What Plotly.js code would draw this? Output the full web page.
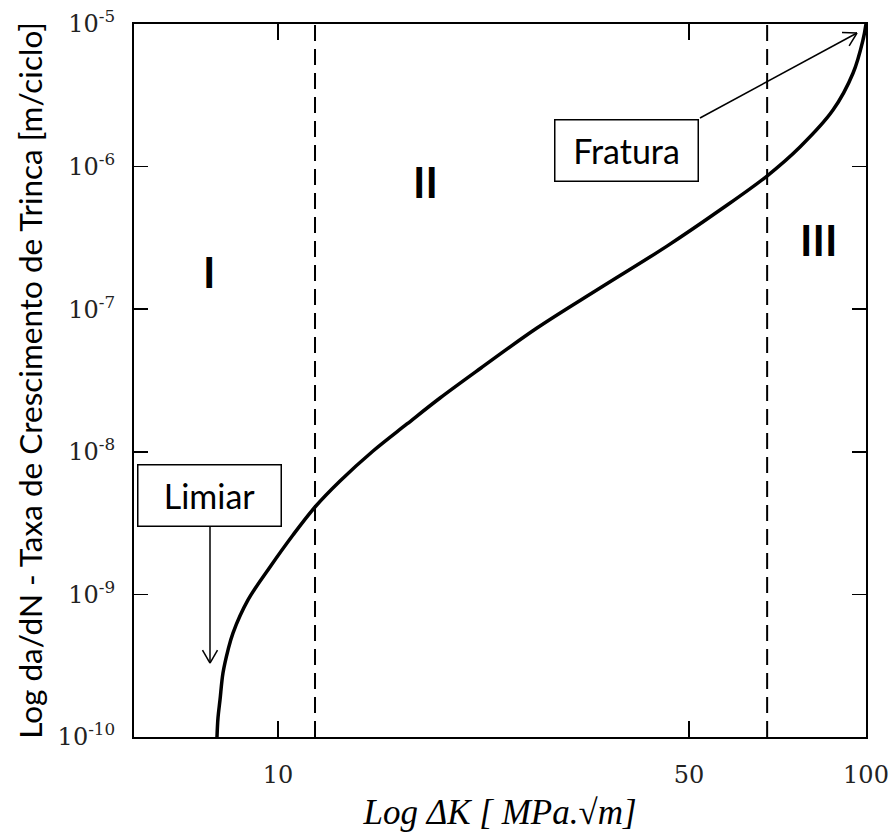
<!DOCTYPE html>
<html>
<head>
<meta charset="utf-8">
<script src="https://cdn.plot.ly/plotly-3.0.1.min.js"></script>
<style>html,body{margin:0;padding:0;background:#fff;}#chart{width:892px;height:834px;}</style>
</head>
<body>
<div id="chart"></div>
<script>
// ---- data ----
const deltaK = [7.875, 7.906, 7.968, 8.062, 8.222, 8.384, 8.892, 9.692, 10.605, 11.56, 12.75, 14.51, 16.57, 18.86, 22.14, 27.57, 35.29, 45.87, 56.46, 67.86, 77.22, 87.87, 95.07, 98.83, 100];
const dadN   = [1e-10, 1.359e-10, 1.817e-10, 2.81e-10, 4.07e-10, 5.36e-10, 9.14e-10, 1.557e-9, 2.61e-9, 4.10e-9, 6.24e-9, 1.013e-8, 1.567e-8, 2.384e-8, 3.87e-8, 7.38e-8, 1.408e-7, 2.77e-7, 4.96e-7, 8.59e-7, 1.372e-6, 2.49e-6, 4.53e-6, 7.72e-6, 1e-5];
const regionBounds = [11.56, 67.9];
const regionNames = ["I", "II", "III"];
const xTickVals = [10, 50, 100];
const xTickText = ["10", "50", "100"];
const yTickVals = [1e-10, 1e-9, 1e-8, 1e-7, 1e-6, 1e-5];
const yTickText = ["10<sup>-10</sup>", "10<sup>-9</sup>", "10<sup>-8</sup>", "10<sup>-7</sup>", "10<sup>-6</sup>", "10<sup>-5</sup>"];
const yRange = [1e-10, 1e-5];
const xRangeVals = [5.69, 100];

// ---- layout helpers (pixel -> paper) ----
const M = {l: 134, r: 26, t: 24, b: 97};
const W = 892, H = 834;
const PW = W - M.l - M.r, PH = H - M.t - M.b;
const px = x => (x - M.l) / PW;
const py = y => (H - M.b - y) / PH;

function arrowShapes(x0, y0, x1, y1) {
  const shapes = [];
  const ln = {color: "black", width: 1.5};
  shapes.push({type: "line", xref: "paper", yref: "paper", x0: px(x0), y0: py(y0), x1: px(x1), y1: py(y1), line: ln});
  const dx = x0 - x1, dy = y0 - y1, L = Math.hypot(dx, dy);
  const ux = dx / L, uy = dy / L, len = 15, a = 30 * Math.PI / 180;
  [a, -a].forEach(t => {
    const rx = ux * Math.cos(t) - uy * Math.sin(t);
    const ry = ux * Math.sin(t) + uy * Math.cos(t);
    shapes.push({type: "line", xref: "paper", yref: "paper", x0: px(x1), y0: py(y1), x1: px(x1 + rx * len), y1: py(y1 + ry * len), line: ln});
  });
  return shapes;
}

const traces = [
  {x: deltaK, y: dadN, type: "scatter", mode: "lines", line: {color: "black", width: 3.5, shape: "spline", smoothing: 1}, hoverinfo: "x+y", showlegend: false}
];
regionBounds.forEach(b => traces.push({
  x: [b, b], y: yRange, type: "scatter", mode: "lines",
  line: {color: "black", width: 2, dash: "16px,8px"}, hoverinfo: "skip", showlegend: false
}));

const boxFont = {family: "Lato, 'Noto Sans', sans-serif", size: 34, color: "black"};
const regFont = {family: "Lato, 'Noto Sans', sans-serif", size: 42, color: "black", weight: 700};

const annotations = [
  {xref: "paper", yref: "paper", x: px(209.5), y: py(495.5), text: "Limiar", showarrow: false, font: boxFont,
   bordercolor: "black", borderwidth: 1.5, bgcolor: "white", width: 140, height: 58, borderpad: 1, xanchor: "center", yanchor: "middle"},
  {xref: "paper", yref: "paper", x: px(626), y: py(150.5), text: "Fratura", showarrow: false, font: boxFont,
   bordercolor: "black", borderwidth: 1.5, bgcolor: "white", width: 140, height: 58, borderpad: 1, xanchor: "center", yanchor: "middle"},
  {xref: "paper", yref: "paper", x: px(209), y: py(272), text: "<b>" + regionNames[0] + "</b>", showarrow: false, font: regFont, xanchor: "center", yanchor: "middle"},
  {xref: "paper", yref: "paper", x: px(425), y: py(182), text: "<b>" + regionNames[1] + "</b>", showarrow: false, font: regFont, xanchor: "center", yanchor: "middle"},
  {xref: "paper", yref: "paper", x: px(818), y: py(240), text: "<b>" + regionNames[2] + "</b>", showarrow: false, font: regFont, xanchor: "center", yanchor: "middle"}
];

const shapes = [].concat(arrowShapes(210, 527, 210, 663), arrowShapes(700, 118, 857, 33));

const tickFont = {family: "'DejaVu Serif', serif", size: 24, color: "#222"};

const layout = {
  width: W, height: H,
  margin: M,
  paper_bgcolor: "white", plot_bgcolor: "white",
  showlegend: false,
  xaxis: {
    type: "log", range: [Math.log10(xRangeVals[0]), Math.log10(xRangeVals[1])],
    tickmode: "array", tickvals: xTickVals, ticktext: xTickText,
    ticks: "inside", ticklen: 16, tickwidth: 1.5, tickcolor: "black",
    showline: true, linewidth: 2, linecolor: "black", mirror: "ticks",
    showgrid: false, zeroline: false, tickfont: tickFont, ticklabelstandoff: 15,
    title: {text: "Log ΔK [ MPa.√m]", font: {family: "'Liberation Serif', serif", size: 35, color: "black", style: "italic"}, standoff: 12}
  },
  yaxis: {
    type: "log", range: [Math.log10(yRange[0]), Math.log10(yRange[1])],
    tickmode: "array", tickvals: yTickVals, ticktext: yTickText,
    ticks: "inside", ticklen: 14, tickwidth: 1.5, tickcolor: "black",
    showline: true, linewidth: 2, linecolor: "black", mirror: "ticks",
    showgrid: false, zeroline: false, tickfont: tickFont, ticklabelstandoff: 12,
    title: {text: "Log da/dN - Taxa de Crescimento de Trinca [m/ciclo]", font: {family: "Lato, 'Noto Sans', sans-serif", size: 31.5, color: "black"}, standoff: 6}
  },
  annotations: annotations,
  shapes: shapes
};

Plotly.newPlot("chart", traces, layout, {displayModeBar: false, staticPlot: true});
</script>
</body>
</html>
